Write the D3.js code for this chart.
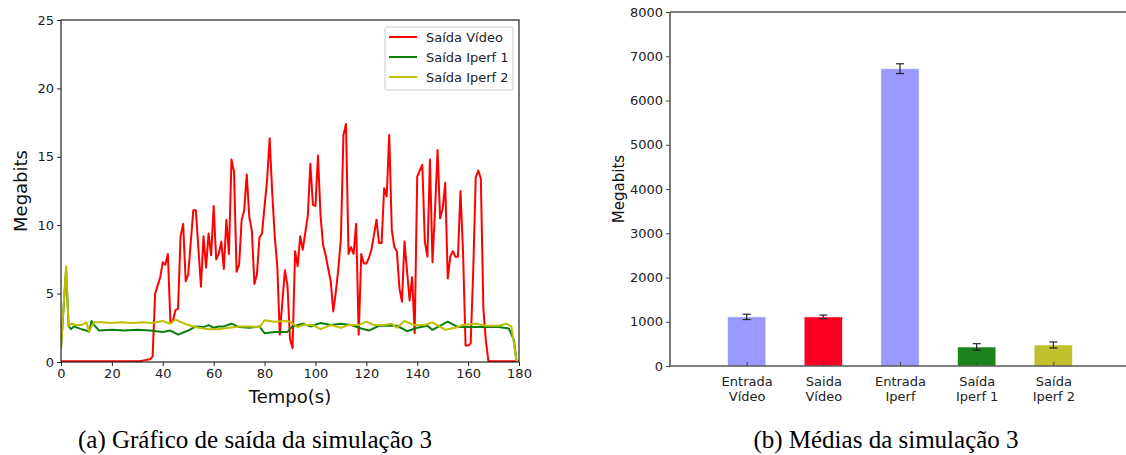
<!DOCTYPE html>
<html>
<head>
<meta charset="utf-8">
<script src="https://cdn.jsdelivr.net/npm/d3@7"></script>
<style>
  body { margin: 0; background: white; }
  svg { font-family: "DejaVu Sans", sans-serif; }
</style>
</head>
<body>
<svg width="1126" height="455"></svg>
<script>
// saída vídeo (tempo, megabits)
let videoT = [0, 31, 32, 35, 36, 37, 39, 40, 41, 42, 43, 44, 45, 46, 47, 48, 49, 50, 52, 53, 55, 56, 57, 58, 59, 60,
  61, 62, 63, 64, 65, 66, 67, 68, 69, 70, 71, 72, 73, 74, 75, 76, 77, 78, 79, 80, 81, 82, 83, 84, 85, 86, 87, 88, 89, 90,
  91, 92, 93, 94, 95, 97, 98, 99, 100, 101, 102, 103, 104, 106, 107, 108, 109, 110, 111, 112, 113, 114, 115, 116, 117,
  118, 119, 120, 121, 122, 124, 125, 126, 127, 128, 129, 130, 131, 132, 133, 134, 135, 137, 138, 139, 140, 141, 142,
  143, 144, 145, 146, 147, 148, 149, 150, 151, 152, 153, 154, 155, 156, 157, 158, 159, 160, 161, 162, 163, 164, 165,
  166, 167, 168, 180]
let videoV = [0.05, 0.05, 0.1, 0.2, 0.4, 5.0, 6.2, 7.3, 7.1, 7.9, 2.9, 3.0, 3.8, 3.9, 9.2, 10.1, 5.9, 6.4, 11.1, 11.1, 5.5, 9.2, 6.9, 9.4, 7.8, 11.4,
  7.5, 7.9, 8.8, 6.8, 10.4, 7.9, 14.8, 13.9, 6.6, 7.1, 10.4, 11.1, 13.7, 10.6, 9.6, 5.7, 6.4, 9.1, 9.4, 11.4, 13.3, 16.35, 12.4, 9.2, 7.0, 2.0, 4.4, 6.7, 5.6, 1.7,
  1.0, 8.1, 7.0, 9.2, 8.2, 10.7, 14.5, 11.5, 11.4, 15.1, 10.7, 8.55, 7.8, 5.9, 3.7, 5.1, 6.8, 9.0, 16.6, 17.4, 7.9, 8.4, 7.9, 10.1, 2.0,
  7.9, 7.2, 7.2, 7.6, 8.2, 10.4, 8.7, 8.7, 12.7, 12.1, 16.6, 9.65, 8.4, 8.1, 5.4, 4.4, 8.8, 4.5, 6.2, 2.1, 13.55, 14.0, 14.4,
  8.8, 7.7, 14.8, 7.3, 11.1, 15.5, 10.5, 11.2, 13.1, 6.1, 7.7, 8.1, 7.7, 7.7, 12.5, 8.1, 1.2, 1.2, 1.35, 6.6, 13.5, 14.0, 13.4,
  3.9, 1.5, 0.05, 0.05]

// saída iperf 1
let iperf1T = [0, 2, 3, 4, 5, 8, 10, 11, 12, 13, 15, 20, 25, 30, 35, 40, 43, 46, 50, 53, 56, 58, 60, 62, 64, 67, 70, 74, 78, 80,
  84, 89, 91, 95, 98, 102, 106, 110, 114, 118, 121, 125, 129, 132, 136, 140, 144, 146, 152, 156, 162, 167, 172, 176, 178, 179, 180]
let iperf1V = [1.0, 6.8, 2.6, 2.4, 2.6, 2.4, 2.3, 2.2, 3.0, 2.7, 2.3, 2.35, 2.3, 2.35, 2.3, 2.2, 2.3, 2.0, 2.3, 2.6, 2.55, 2.7, 2.5, 2.6, 2.6, 2.8, 2.55, 2.5, 2.6, 2.1,
  2.2, 2.2, 2.6, 2.8, 2.6, 2.85, 2.7, 2.8, 2.7, 2.45, 2.3, 2.65, 2.65, 2.65, 2.25, 2.5, 2.65, 2.35, 2.95, 2.55, 2.55, 2.55, 2.55, 2.45, 1.6, 0.1, 0.0]

// saída iperf 2
let iperf2T = [0, 2, 3, 4, 6, 8, 10, 11, 12, 13, 16, 20, 24, 28, 32, 36, 40, 43, 45, 48, 50, 54, 58, 62, 66, 70, 74, 78, 80,
  84, 88, 90, 93, 95, 99, 102, 106, 110, 113, 117, 120, 123, 127, 130, 132, 135, 139, 143, 146, 151, 155, 158, 163, 167, 172, 175, 177, 179, 180]
let iperf2V = [1.0, 7.0, 2.6, 2.8, 2.7, 2.7, 2.9, 2.2, 2.6, 2.9, 2.9, 2.85, 2.9, 2.85, 2.9, 2.85, 3.0, 2.8, 3.1, 2.85, 2.7, 2.5, 2.4, 2.4, 2.5, 2.6, 2.6, 2.55, 3.05,
  2.95, 3.0, 2.95, 2.55, 2.7, 2.7, 2.4, 2.7, 2.5, 2.7, 2.7, 2.95, 2.7, 2.7, 2.8, 2.5, 3.0, 2.7, 2.7, 2.9, 2.35, 2.5, 2.7, 2.8, 2.65, 2.65, 2.8, 2.6, 0.1, 0.0]

let seriesNames = ["Saída Vídeo", "Saída Iperf 1", "Saída Iperf 2"]
let xTicksLeft = [0, 20, 40, 60, 80, 100, 120, 140, 160, 180]
let yTicksLeft = [0, 5, 10, 15, 20, 25]

// médias
let barLabels = [["Entrada", "Vídeo"], ["Saida", "Vídeo"], ["Entrada", "Iperf"], ["Saída", "Iperf 1"], ["Saída", "Iperf 2"]]
let barValues = [1110, 1110, 6720, 430, 475]
let barErrors = [60, 40, 110, 75, 68]
let yTicksRight = [0, 1000, 2000, 3000, 4000, 5000, 6000, 7000, 8000]

let lineColors = ["#ff0000", "#0a800a", "#bfbf00"]
let barColors = ["#9999ff", "#fb0022", "#1c821a", "#c0c02a"]
barColors = [barColors[0], barColors[1], barColors[0], barColors[2], barColors[3]]

let svg = d3.select("svg")

// ---------- gráfico (a) ----------
let L = { left: 61, right: 519, top: 20, bottom: 362 }

let x = d3.scaleLinear().domain([0, 180]).range([L.left, L.right])
let y = d3.scaleLinear().domain([0, 25]).range([L.bottom, L.top])

svg.append("clipPath").attr("id", "clipL")
    .append("rect")
    .attr("x", L.left).attr("y", L.top - 1)
    .attr("width", L.right - L.left).attr("height", L.bottom - L.top + 1)

let line = d3.line()
    .x(d => x(d[0]))
    .y(d => y(d[1]))

let allSeries = [
    d3.zip(videoT, videoV),
    d3.zip(iperf1T, iperf1V),
    d3.zip(iperf2T, iperf2V)
]

allSeries.forEach(function (s, i) {
    svg.append("path")
        .datum(s)
        .attr("clip-path", "url(#clipL)")
        .attr("d", line)
        .style("fill", "none")
        .style("stroke", lineColors[i])
        .style("stroke-width", "2px")
        .style("stroke-linejoin", "round")
})

let xAxisL = svg.append("g")
    .attr("transform", `translate(0,${L.bottom})`)
    .call(d3.axisBottom(x).tickValues(xTicksLeft).tickSize(4).tickPadding(3))
let yAxisL = svg.append("g")
    .attr("transform", `translate(${L.left},0)`)
    .call(d3.axisLeft(y).tickValues(yTicksLeft).tickSize(4).tickPadding(3))

svg.selectAll(".domain").remove()
svg.selectAll(".tick text")
    .style("font-family", "DejaVu Sans")
    .style("font-size", "13px")
    .style("fill", "#222")
svg.selectAll(".tick line").style("stroke", "#222")

svg.append("rect")
    .attr("x", L.left).attr("y", L.top)
    .attr("width", L.right - L.left).attr("height", L.bottom - L.top)
    .style("fill", "none")
    .style("stroke", "#222")
    .style("stroke-width", "1.2px")

svg.append("text")
    .attr("x", (L.left + L.right) / 2).attr("y", 403)
    .attr("text-anchor", "middle")
    .style("font-size", "18px")
    .style("fill", "#111")
    .text("Tempo(s)")

svg.append("text")
    .attr("transform", `translate(27,${(L.top + L.bottom) / 2}) rotate(-90)`)
    .attr("text-anchor", "middle")
    .style("font-size", "18px")
    .style("fill", "#111")
    .text("Megabits")

// legenda
let legend = svg.append("g").attr("transform", "translate(385,27)")
legend.append("rect")
    .attr("width", 128).attr("height", 63)
    .attr("rx", 2)
    .style("fill", "white")
    .style("stroke", "#ccc")
seriesNames.forEach(function (name, i) {
    legend.append("line")
        .attr("x1", 4).attr("x2", 32)
        .attr("y1", 10 + i * 20).attr("y2", 10 + i * 20)
        .style("stroke", lineColors[i])
        .style("stroke-width", "2px")
    legend.append("text")
        .attr("x", 41).attr("y", 10 + i * 20)
        .attr("dy", "0.35em")
        .style("font-size", "13px")
        .style("fill", "#222")
        .text(name)
})

// ---------- gráfico (b) ----------
let R = { left: 670, right: 1130, top: 12, bottom: 366 }

let xb = d3.scaleLinear().domain([0, 6]).range([R.left, R.right])
let yb = d3.scaleLinear().domain([0, 8000]).range([R.bottom, R.top])
let barW = xb(0.5) - xb(0)

let barsG = svg.append("g")
barValues.forEach(function (v, i) {
    let cx = xb(i + 1)
    barsG.append("rect")
        .attr("x", cx - barW / 2).attr("y", yb(v))
        .attr("width", barW).attr("height", yb(0) - yb(v))
        .style("fill", barColors[i])
        .style("stroke", "rgba(255,255,255,0.6)")
        .style("stroke-width", "1px")
    // barra de erro
    let e = barErrors[i]
    barsG.append("line")
        .attr("x1", cx).attr("x2", cx)
        .attr("y1", yb(v + e)).attr("y2", yb(v - e))
        .style("stroke", "#222").style("stroke-width", "1.2px")
    ;[v + e, v - e].forEach(function (c) {
        barsG.append("line")
            .attr("x1", cx - 4).attr("x2", cx + 4)
            .attr("y1", yb(c)).attr("y2", yb(c))
            .style("stroke", "#222").style("stroke-width", "1.2px")
    })
})

let yAxisR = svg.append("g")
    .attr("transform", `translate(${R.left},0)`)
    .call(d3.axisLeft(yb).tickValues(yTicksRight).tickFormat(d3.format("d")).tickSize(4).tickPadding(3))
yAxisR.select(".domain").remove()
yAxisR.selectAll(".tick text")
    .style("font-family", "DejaVu Sans")
    .style("font-size", "13px")
    .style("fill", "#222")
yAxisR.selectAll(".tick line").style("stroke", "#444")

let xAxisR = svg.append("g")
    .attr("transform", `translate(0,${R.bottom})`)
    .call(d3.axisBottom(xb).tickValues([1, 2, 3, 4, 5]).tickSizeInner(-4).tickSizeOuter(0).tickFormat(""))
xAxisR.select(".domain").remove()
xAxisR.selectAll(".tick line").style("stroke", "#444")
xAxisR.selectAll(".tick").each(function (d, i) {
    let t = d3.select(this).append("text")
        .attr("y", 11)
        .attr("text-anchor", "middle")
        .style("font-family", "DejaVu Sans")
        .style("font-size", "13px")
        .style("fill", "#222")
    barLabels[i].forEach(function (s, j) {
        t.append("tspan").attr("x", 0).attr("dy", j == 0 ? "0.71em" : "1.15em").text(s)
    })
})

// eixos do gráfico b
let spines = svg.append("g")
    .style("stroke", "#555")
    .style("stroke-width", "1.6px")
spines.append("line").attr("x1", R.left).attr("x2", R.left).attr("y1", R.top).attr("y2", R.bottom)
spines.append("line").attr("x1", R.left).attr("x2", R.right).attr("y1", R.top).attr("y2", R.top)
spines.append("line").attr("x1", R.left).attr("x2", R.right).attr("y1", R.bottom).attr("y2", R.bottom)

svg.append("text")
    .attr("transform", `translate(624,${(R.top + R.bottom) / 2}) rotate(-90)`)
    .attr("text-anchor", "middle")
    .style("font-size", "15px")
    .style("fill", "#111")
    .text("Megabits")

// legendas das figuras
svg.append("text")
    .attr("x", 255).attr("y", 448)
    .attr("text-anchor", "middle")
    .style("font-family", "Liberation Serif, DejaVu Serif, serif")
    .style("font-size", "25px")
    .style("fill", "#000")
    .text("(a) Gráfico de saída da simulação 3")

svg.append("text")
    .attr("x", 886).attr("y", 448)
    .attr("text-anchor", "middle")
    .style("font-family", "Liberation Serif, DejaVu Serif, serif")
    .style("font-size", "25px")
    .style("fill", "#000")
    .text("(b) Médias da simulação 3")
</script>
</body>
</html>
